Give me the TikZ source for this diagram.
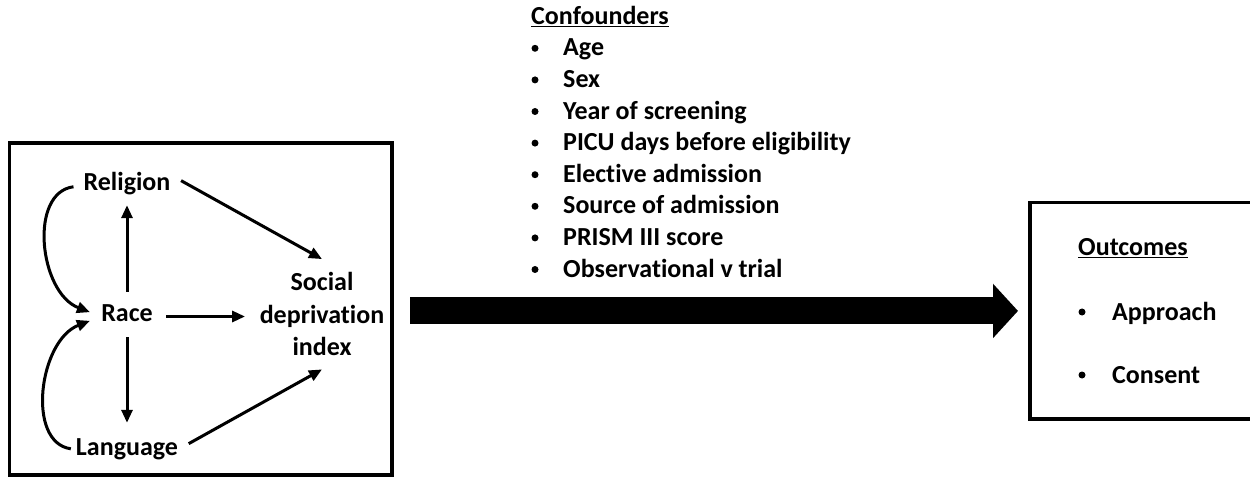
\documentclass[tikz,border=0pt]{standalone}
\usepackage{fontspec}
\setmainfont{Carlito}[Ligatures={NoCommon,NoContextual}]
\usetikzlibrary{arrows.meta,calc}
\begin{document}
\begin{tikzpicture}[x=1pt,y=-1pt,
  lbl/.style={font=\fontsize{26}{32}\selectfont\bfseries, inner sep=0pt, text height=16pt, text depth=5pt},
  mtxt/.style={font=\fontsize{26}{32.5}\selectfont\bfseries, inner sep=0pt, align=center},
  bul/.style={circle, fill, inner sep=0pt, minimum size=7pt},
  arr/.style={line width=3pt, -{Triangle[length=13pt,width=11pt]}},
  boxst/.style={draw, line width=3.5pt, inner sep=0pt, outer sep=0pt},
  bigarr/.style={line width=27pt, -{Triangle[length=25pt,width=53pt]}}]
\useasboundingbox (0,0) rectangle (1250,478);
% boxes
\node[boxst, minimum width=382.5pt, minimum height=332pt] (lbox) at (200.75,309) {};
\node[boxst, minimum width=240pt, minimum height=216.5pt, anchor=north west] (rbox) at (1030,202.7) {};
% left box contents
\node[lbl, anchor=base] (rel) at (127,191) {Religion};
\node[lbl, anchor=base] (race) at (127,322) {Race};
\node[lbl, anchor=base] (lang) at (127,455) {Language};
\node[mtxt] (sdi) at (322,314) {Social\\deprivation\\index};
\draw[arr, shorten <=14pt, shorten >=9pt] (race) -- (rel);
\draw[arr, shorten <=10pt, shorten >=16pt] (race) -- (lang);
\draw[arr, shorten <=13.5pt, shorten >=14.5pt] (race.east) -- (sdi.west |- race.east);
\draw[arr, shorten <=12pt] (rel.north east) -- ($(sdi.north)+(0,-13)$);
\draw[arr, shorten <=12pt] (lang.east) -- ($(sdi.south)+(0,13.5)$);
\draw[arr, shorten <=10pt, shorten >=12pt] (rel.west) .. controls ($(rel.west)+(-55,7)$) and ($(race.west)+(-62,-24)$) .. (race.west);
\draw[arr, shorten <=5pt, shorten >=12pt] (lang.west) .. controls ($(lang.west)+(-50,-7)$) and ($(race.west)+(-62,24)$) .. (race.west);
% big arrow
\draw[bigarr, shorten <=18pt, shorten >=12pt] (lbox.east |- rbox.west) -- (rbox.west);
% confounders
\node[lbl, anchor=base west] (conf) at (531,25) {\underline{Confounders}};
\foreach \t [count=\i] in {Age, Sex, Year of screening, PICU days before eligibility, Elective admission, Source of admission, PRISM III score, Observational v trial} {
  \node[bul] (cb\i) at (535,{48.3+31.6*(\i-1)}) {};
  \node[lbl, anchor=base west] (c\i) at (563,{56+31.6*(\i-1)}) {\t};
}
% outcomes
\node[lbl, anchor=base] (out) at (1133,256) {\underline{Outcomes}};
\node[bul] (ob1) at (1082,312) {};
\node[lbl, anchor=base west] (o1) at (1112,320) {Approach};
\node[bul] (ob2) at (1082,375) {};
\node[lbl, anchor=base west] (o2) at (1112,383) {Consent};
\end{tikzpicture}
\end{document}
